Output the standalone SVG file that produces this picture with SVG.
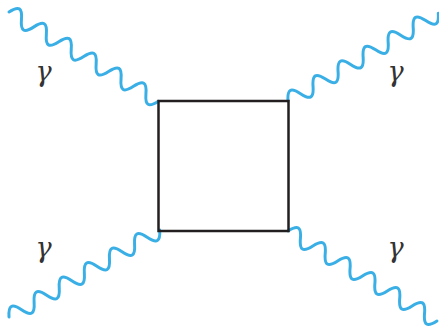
<svg xmlns="http://www.w3.org/2000/svg" xmlns:xlink="http://www.w3.org/1999/xlink" width="439" height="327" viewBox="0 0 439 327">
<style>
.ph{fill:none;stroke:#3aafe6;stroke-width:3;stroke-linecap:round;stroke-linejoin:round}
.box{fill:none;stroke:#231f20;stroke-width:2.5}
.lbl{font-family:"DejaVu Serif","Liberation Serif",serif;font-style:italic;font-size:27px;fill:#333;text-anchor:middle}
</style>
<defs>
<path id="wave" d="M0,0 c5.22,-10.6 9.28,-10.6 14.5,0 s9.28,10.6 14.5,0 s9.28,-10.6 14.5,0 s9.28,10.6 14.5,0 s9.28,-10.6 14.5,0 s9.28,10.6 14.5,0 s9.28,-10.6 14.5,0 s9.28,10.6 14.5,0 s9.28,-10.6 14.5,0 s9.28,10.6 14.5,0 s9.28,-10.6 14.5,0 s9.28,10.6 14.5,0"/>
</defs>
<g id="connectors">
<use xlink:href="#wave" class="ph" transform="translate(9,12) rotate(30.85)"/>
<use xlink:href="#wave" class="ph" transform="translate(288,101) rotate(-30.28)"/>
<use xlink:href="#wave" class="ph" transform="translate(9,317) rotate(-29.99)"/>
<use xlink:href="#wave" class="ph" transform="translate(288,231) rotate(31.13)"/>
</g>
<g id="box"><rect class="box" x="158.5" y="101" width="130" height="130"/></g>
<g id="label-tl"><text class="lbl" x="43.5" y="81">γ</text></g>
<g id="label-tr"><text class="lbl" x="395.5" y="81">γ</text></g>
<g id="label-bl"><text class="lbl" x="43.5" y="257">γ</text></g>
<g id="label-br"><text class="lbl" x="395.5" y="257">γ</text></g>
</svg>
